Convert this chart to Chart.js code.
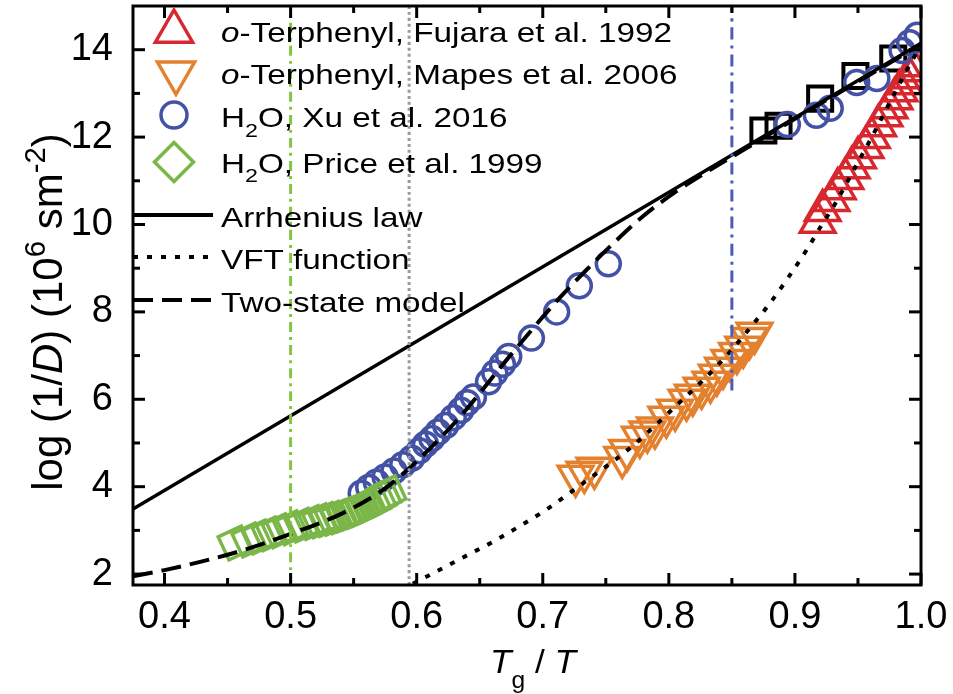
<!DOCTYPE html>
<html lang="en">
<head>
<meta charset="UTF-8" />
<title>log(1/D) vs Tg/T</title>
<script src="https://cdn.jsdelivr.net/npm/chart.js"></script>
<style>
  body { margin: 0; background: #fff; }
  #wrap { width: 953px; height: 694px; }
</style>
</head>
<body>
<div id="wrap"><canvas id="chart" width="953" height="694"></canvas></div>
<script>
// values
const xTicks = [0.4, 0.5, 0.6, 0.7, 0.8, 0.9, 1.0];
const xMinor = [0.45, 0.55, 0.65, 0.75, 0.85, 0.95];
const yTicks = [2, 4, 6, 8, 10, 12, 14];
const yMinor = [3, 5, 7, 9, 11, 13];

const fujaraX = [0.918, 0.922, 0.929, 0.934, 0.940, 0.945, 0.950, 0.956, 0.961, 0.966, 0.971, 0.975, 0.979, 0.983, 0.987, 0.991, 0.995, 0.998];
const fujaraY = [10.05, 10.32, 10.55, 10.82, 11.05, 11.30, 11.53, 11.76, 11.99, 12.26, 12.49, 12.67, 12.88, 13.06, 13.22, 13.36, 13.52, 13.63];

const mapesX = [0.726, 0.733, 0.741, 0.763, 0.767, 0.777, 0.783, 0.789, 0.798, 0.805, 0.814, 0.819, 0.826, 0.833, 0.838, 0.843, 0.848, 0.854, 0.859, 0.864, 0.868];
const mapesY = [4.24, 4.33, 4.42, 4.67, 4.83, 5.13, 5.25, 5.34, 5.59, 5.75, 5.98, 6.09, 6.25, 6.39, 6.55, 6.71, 6.89, 7.05, 7.19, 7.39, 7.51];

const xuX = [0.556, 0.562, 0.568, 0.575, 0.582, 0.589, 0.596, 0.602, 0.607, 0.612, 0.617, 0.623, 0.629, 0.635, 0.640, 0.645,
             0.657, 0.662, 0.668, 0.673, 0.691, 0.711, 0.729, 0.752,
             0.894, 0.917, 0.928, 0.949, 0.965, 0.985, 0.991, 0.997];
const xuY = [3.85, 3.98, 4.10, 4.22, 4.36, 4.50, 4.65, 4.82, 4.97, 5.10, 5.25, 5.40, 5.58, 5.75, 5.92, 6.05,
             6.40, 6.60, 6.80, 6.98, 7.40, 8.00, 8.60, 9.10,
             12.29, 12.50, 12.66, 13.25, 13.34, 13.98, 14.16, 14.33];

const priceX = [0.456, 0.467, 0.475, 0.483, 0.491, 0.500, 0.509, 0.517, 0.523, 0.528, 0.533, 0.538, 0.542, 0.546, 0.550, 0.554, 0.558, 0.562, 0.566, 0.570, 0.574, 0.578];
const priceY = [2.71, 2.78, 2.85, 2.92, 2.99, 3.06, 3.12, 3.18, 3.22, 3.25, 3.28, 3.31, 3.35, 3.39, 3.43, 3.48, 3.53, 3.59, 3.65, 3.72, 3.79, 3.86];

const squareX = [0.875, 0.887, 0.920, 0.948, 0.978];
const squareY = [12.15, 12.26, 12.88, 13.40, 13.80];

const arrX = [0.375, 1.0];
const arrY = [3.49, 14.15];

const vftX = [0.597, 0.621, 0.640, 0.660, 0.679, 0.702, 0.721, 0.743, 0.767, 0.787, 0.806, 0.827, 0.848, 0.868, 0.880, 0.910, 0.920, 0.932, 0.942, 0.952, 0.961, 0.970, 0.979, 0.989, 1.0];
const vftY = [1.78, 2.14, 2.43, 2.73, 3.05, 3.46, 3.85, 4.31, 4.83, 5.34, 5.86, 6.43, 7.07, 7.76, 8.19, 9.45, 9.93, 10.48, 11.0, 11.53, 12.0, 12.5, 13.0, 13.55, 14.1];

const twoX = [0.375, 0.4, 0.457, 0.502, 0.541, 0.573, 0.594, 0.632, 0.671, 0.713, 0.735, 0.756, 0.78, 0.805, 0.83, 0.86, 0.9, 0.95, 1.0];
const twoY = [1.95, 2.09, 2.50, 2.94, 3.39, 3.92, 4.42, 5.52, 6.89, 8.31, 8.97, 9.57, 10.2, 10.74, 11.2, 11.72, 12.42, 13.27, 14.12];

const greenVX = [0.5, 0.5], greenVY = [1.75, 15];
const grayVX = [0.594, 0.594], grayVY = [1.75, 15];
const blueVX = [0.85, 0.85], blueVY = [6.2, 15];

const RED = '#d7282f', ORANGE = '#e4812f', BLUE = '#4452a6', GREEN = '#7ab648';
const FONT = '"Liberation Sans", Arial, sans-serif';

function pts(xs, ys) { return xs.map((x, i) => ({ x: x, y: ys[i] })); }

function lineSet(xs, ys, color, width, dash) {
  return { data: pts(xs, ys), showLine: true, pointRadius: 0, borderColor: color,
           borderWidth: width, borderDash: dash || [], fill: false, cubicInterpolationMode: 'monotone' };
}
function markSet(xs, ys, color, style, r, width, rot) {
  return { data: pts(xs, ys), showLine: false, pointStyle: style, pointRadius: r, pointRotation: rot || 0,
           borderColor: color, backgroundColor: 'rgba(0,0,0,0)', pointBorderWidth: width, borderWidth: width };
}

// rich text: segments with italic / sub / sup
function richWidth(ctx, segs, size) {
  let w = 0;
  for (const s of segs) {
    const fs = (s.sub || s.sup) ? size * 0.7 : size;
    ctx.font = (s.i ? 'italic ' : '') + fs + 'px ' + FONT;
    w += ctx.measureText(s.t).width;
  }
  return w;
}
function drawRich(ctx, segs, x, y, size, sx) {
  ctx.save();
  ctx.translate(x, y);
  ctx.scale(sx, 1);
  ctx.textBaseline = 'alphabetic';
  ctx.textAlign = 'left';
  let cx = 0;
  for (const s of segs) {
    let fs = size, dy = 0;
    if (s.sub) { fs = size * 0.7; dy = size * (s.dy || 0.36); }
    if (s.sup) { fs = size * 0.7; dy = -size * 0.4; }
    ctx.font = (s.i ? 'italic ' : '') + fs + 'px ' + FONT;
    ctx.fillText(s.t, cx, dy);
    cx += ctx.measureText(s.t).width;
  }
  ctx.restore();
}

const legendRows = [
  { segs: [{ t: 'o', i: true }, { t: '-Terphenyl, Fujara et al. 1992' }], mark: 'triUp', color: RED },
  { segs: [{ t: 'o', i: true }, { t: '-Terphenyl, Mapes et al. 2006' }], mark: 'triDown', color: ORANGE },
  { segs: [{ t: 'H' }, { t: '2', sub: true }, { t: 'O, Xu et al. 2016' }], mark: 'circle', color: BLUE },
  { segs: [{ t: 'H' }, { t: '2', sub: true }, { t: 'O, Price et al. 1999' }], mark: 'diamond', color: GREEN },
  { segs: [{ t: 'Arrhenius law' }], line: [], width: 4 },
  { segs: [{ t: 'VFT function' }], line: [5, 9], width: 4 },
  { segs: [{ t: 'Two-state model' }], line: [20, 9], width: 4 }
];
const legendBase = [42, 83.5, 127, 172.5, 226.5, 268.5, 311.5];

function marker(ctx, type, x, y, r) {
  ctx.beginPath();
  if (type === 'triUp') { ctx.moveTo(x, y - r); ctx.lineTo(x + r * 0.866, y + r / 2); ctx.lineTo(x - r * 0.866, y + r / 2); ctx.closePath(); }
  else if (type === 'triDown') { ctx.moveTo(x, y + r); ctx.lineTo(x + r * 0.866, y - r / 2); ctx.lineTo(x - r * 0.866, y - r / 2); ctx.closePath(); }
  else if (type === 'circle') ctx.arc(x, y, r, 0, 2 * Math.PI);
  else { ctx.moveTo(x - r, y); ctx.lineTo(x, y - r); ctx.lineTo(x + r, y); ctx.lineTo(x, y + r); ctx.closePath(); }
  ctx.stroke();
}

const decorations = {
  id: 'decorations',
  afterDraw(chart) {
    const ctx = chart.ctx, a = chart.chartArea;
    const xs = chart.scales.x, ys = chart.scales.y;
    ctx.save();
    ctx.strokeStyle = '#000';
    ctx.fillStyle = '#000';
    ctx.lineWidth = 3;
    ctx.setLineDash([]);
    const seg = (x1, y1, x2, y2) => { ctx.beginPath(); ctx.moveTo(x1, y1); ctx.lineTo(x2, y2); ctx.stroke(); };
    // inward ticks on all four sides
    const tx = (v, len) => { const p = xs.getPixelForValue(v); seg(p, a.bottom, p, a.bottom - len); seg(p, a.top, p, a.top + len); };
    const ty = (v, len) => { const p = ys.getPixelForValue(v); seg(a.left, p, a.left + len, p); seg(a.right, p, a.right - len, p); };
    xTicks.forEach(v => tx(v, 12)); xMinor.forEach(v => tx(v, 7));
    yTicks.forEach(v => ty(v, 12)); yMinor.forEach(v => ty(v, 7));
    ctx.strokeRect(a.left, a.top, a.right - a.left, a.bottom - a.top);

    // legend
    const lsize = 27.5;
    const stretch = 451 / richWidth(ctx, legendRows[0].segs, lsize);
    legendRows.forEach((row, i) => {
      const base = legendBase[i];
      if (row.mark) {
        ctx.strokeStyle = row.color;
        ctx.lineWidth = 3.5;
        if (row.mark === 'triUp') marker(ctx, 'triUp', 174, 31.5, 21.5);
        if (row.mark === 'triDown') marker(ctx, 'triDown', 176, 72.75, 21.5);
        if (row.mark === 'circle') marker(ctx, 'circle', 174, 115, 13);
        if (row.mark === 'diamond') marker(ctx, 'diamond', 174, 162, 19.5);
      } else {
        ctx.strokeStyle = '#000';
        ctx.lineWidth = row.width;
        ctx.setLineDash(row.line);
        seg(a.left, base - 11.5, 213, base - 11.5);
        ctx.setLineDash([]);
      }
      ctx.fillStyle = '#000';
      drawRich(ctx, row.segs, 221, base, lsize, stretch);
    });

    // axis titles
    const ySegs = [{ t: 'log (1/' }, { t: 'D', i: true }, { t: ') (10' }, { t: '6', sup: true }, { t: ' sm' }, { t: '-2', sup: true }, { t: ')' }];
    const ysize = 42;
    const yw = richWidth(ctx, ySegs, ysize);
    ctx.save();
    ctx.translate(62, 312);
    ctx.rotate(-Math.PI / 2);
    drawRich(ctx, ySegs, -yw / 2, 0, ysize, 1);
    ctx.restore();

    const xSegs = [{ t: 'T', i: true }, { t: 'g', sub: true, dy: 0.44 }, { t: ' / ' }, { t: 'T', i: true }];
    const xw = richWidth(ctx, xSegs, 33);
    drawRich(ctx, xSegs, 490, 673, 33, 86 / xw);
    ctx.restore();
  }
};

new Chart(document.getElementById('chart'), {
  type: 'scatter',
  data: {
    datasets: [
      lineSet(greenVX, greenVY, '#86c440', 3, [10, 5, 3, 5]),
      lineSet(grayVX, grayVY, '#9a9a9a', 3, [3, 3]),
      lineSet(blueVX, blueVY, '#4a5cb8', 3, [12, 6, 3, 6]),
      lineSet(arrX, arrY, '#000', 3.5),
      lineSet(vftX, vftY, '#000', 4, [5, 9]),
      lineSet(twoX, twoY, '#000', 4, [20, 9]),
      markSet(priceX, priceY, GREEN, 'rectRot', 18, 3.5, 20),
      markSet(xuX, xuY, BLUE, 'circle', 12, 3.5),
      markSet(mapesX, mapesY, ORANGE, 'triangle', 20, 3.5, 180),
      markSet(fujaraX, fujaraY, RED, 'triangle', 20, 3.5),
      markSet(squareX, squareY, '#000', 'rect', 17, 4)
    ]
  },
  options: {
    responsive: false,
    animation: false,
    events: [],
    layout: { autoPadding: false, padding: { top: 6, right: 32, left: 0, bottom: 0 } },
    plugins: { legend: { display: false }, tooltip: { enabled: false } },
    scales: {
      x: {
        type: 'linear', min: 0.375, max: 1.0,
        afterBuildTicks: s => { s.ticks = xTicks.map(v => ({ value: v })); },
        afterFit: s => { s.height = 109; s.paddingLeft = 0; s.paddingRight = 0; },
        grid: { display: false }, border: { display: false },
        ticks: { font: { size: 38, family: FONT }, color: '#000', padding: 2, maxRotation: 0, autoSkip: false,
                 callback: v => v.toFixed(1) }
      },
      y: {
        type: 'linear', min: 1.75, max: 15,
        afterBuildTicks: s => { s.ticks = yTicks.map(v => ({ value: v })); },
        afterFit: s => { s.width = 133; s.paddingTop = 0; s.paddingBottom = 0; },
        grid: { display: false }, border: { display: false },
        ticks: { font: { size: 38, family: FONT, lineHeight: 0.3 }, color: '#000', padding: 12, autoSkip: false,
                 callback: v => String(v) }
      }
    }
  },
  plugins: [decorations]
});
</script>
</body>
</html>
